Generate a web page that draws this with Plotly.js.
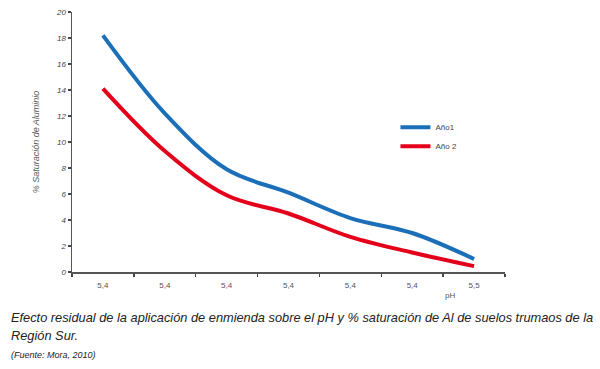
<!DOCTYPE html>
<html>
<head>
<meta charset="utf-8">
<script src="https://cdn.plot.ly/plotly-3.0.1.min.js"></script>
<style>
html,body{margin:0;padding:0;background:#fff;}
#chart{width:600px;height:369px;}
</style>
</head>
<body>
<div id="chart"></div>
<script>
const xPos = [0, 1, 2, 3, 4, 5, 6];
const phLabels = ["5,4", "5,4", "5,4", "5,4", "5,4", "5,4", "5,5"];
const ano1 = [18.2, 12.2, 7.9, 6.1, 4.15, 3.0, 1.0];
const ano2 = [14.1, 9.3, 5.9, 4.5, 2.7, 1.5, 0.45];
const boundaries = [-0.5, 0.5, 1.5, 2.5, 3.5, 4.5, 5.5, 6.5];

const FONT = "Liberation Sans, Arial, sans-serif";

const traces = [
  {x: xPos, y: ano1, name: "Año1", mode: "lines", line: {color: "#1b6fb9", width: 4, shape: "spline", smoothing: 1}},
  {x: xPos, y: ano2, name: "Año 2", mode: "lines", line: {color: "#e4001b", width: 4, shape: "spline", smoothing: 1}}
];

const layout = {
  width: 600, height: 369,
  margin: {l: 72, r: 95, t: 12, b: 97},
  paper_bgcolor: "#fff", plot_bgcolor: "#fff",
  font: {family: FONT, color: "#444"},
  showlegend: true,
  legend: {x: 0.747, y: 0.52, xanchor: "left", yanchor: "middle", font: {size: 8, color: "#444"}, bgcolor: "rgba(0,0,0,0)", itemwidth: 30, tracegroupgap: 4},
  xaxis: {
    range: [-0.5, 6.5], tickmode: "array", tickvals: xPos, ticktext: phLabels,
    ticks: "outside", ticklen: 5, tickcolor: "rgba(0,0,0,0)",
    tickfont: {size: 8, color: "#555"},
    showline: true, linecolor: "#555", linewidth: 1.5, showgrid: false, zeroline: false,
    minor: {tickmode: "array", tickvals: boundaries, ticks: "outside", ticklen: 3, tickcolor: "#444", tickwidth: 1.5, showgrid: false}
  },
  yaxis: {
    range: [0, 20], tickmode: "linear", tick0: 0, dtick: 2,
    ticks: "outside", ticklen: 3, tickcolor: "#444", tickwidth: 1.5,
    tickfont: {size: 8, color: "#444", style: "italic"},
    showline: true, linecolor: "#555", linewidth: 1.5, showgrid: false, zeroline: false,
    title: {text: "% Saturación de Aluminio", font: {size: 9, color: "#555", style: "italic"}, standoff: 15}
  },
  annotations: [
    {xref: "paper", yref: "paper", x: 0.873, y: -0.09, xanchor: "center", yanchor: "middle", text: "pH", showarrow: false, font: {size: 8, color: "#555"}},
    {xref: "paper", yref: "paper", x: -0.145, y: -0.175, xanchor: "left", yanchor: "middle", align: "left", showarrow: false,
     text: "Efecto residual de la aplicación de enmienda sobre el pH y % saturación de Al de suelos trumaos de la",
     font: {size: 12.8, color: "#222", style: "italic"}},
    {xref: "paper", yref: "paper", x: -0.145, y: -0.245, xanchor: "left", yanchor: "middle", align: "left", showarrow: false,
     text: "Región Sur.", font: {size: 12.8, color: "#222", style: "italic"}},
    {xref: "paper", yref: "paper", x: -0.145, y: -0.318, xanchor: "left", yanchor: "middle", align: "left", showarrow: false,
     text: "(Fuente: Mora, 2010)", font: {size: 9, color: "#222", style: "italic"}}
  ]
};

Plotly.newPlot("chart", traces, layout, {displayModeBar: false, staticPlot: true});
</script>
</body>
</html>
